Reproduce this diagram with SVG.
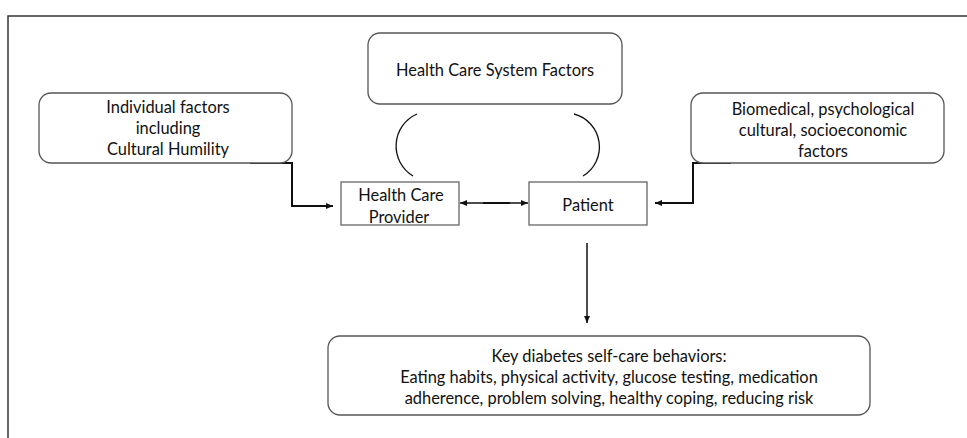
<svg xmlns="http://www.w3.org/2000/svg" width="967" height="438" viewBox="0 0 967 438">
<style>
.frame{fill:none;stroke:#333;stroke-width:1.5}
.rbox{fill:#fff;stroke:#555;stroke-width:1.3}
.sbox{fill:#fff;stroke:#666;stroke-width:1.3}
.t{font-family:Lato,"Liberation Sans",sans-serif;font-size:16.4px;fill:#111;text-anchor:middle;dominant-baseline:central}
.c{fill:none;stroke:#111;stroke-width:1.5}
.ct{fill:none;stroke:#111;stroke-width:2}
.arc{fill:none;stroke:#111;stroke-width:1.3}
</style>
<defs>
<marker id="ah" markerWidth="8" markerHeight="8" refX="7" refY="4" orient="auto" markerUnits="userSpaceOnUse">
<path d="M0,1 L7,4 L0,7 Z" fill="#111"/>
</marker>
<marker id="ahs" markerWidth="8" markerHeight="8" refX="1" refY="4" orient="auto" markerUnits="userSpaceOnUse">
<path d="M8,1 L1,4 L8,7 Z" fill="#111"/>
</marker>
</defs>
<rect width="967" height="438" fill="#fff"/>
<path class="frame" d="M8,438 L8,16 L967,16"/>
<g id="connectors">
<path class="ct" d="M250,163 L292,163 L292,206 L333,206" marker-end="url(#ah)"/>
<path class="ct" d="M731,163 L693,163 L693,203 L655,203" marker-end="url(#ah)"/>
<path class="c" d="M460,203 L528,203" marker-start="url(#ahs)" marker-end="url(#ah)"/>
<path class="ct" d="M483,203 L510,203"/>
<path class="c" d="M587,243 L587,323" marker-end="url(#ah)"/>
<path class="arc" d="M417,114 A35,35 0 0 0 413,176"/>
<path class="arc" d="M574,114 A34,34 0 0 1 583,176"/>
</g>
<g id="system">
<rect class="rbox" x="368" y="33" width="254" height="71" rx="12"/>
<text class="t" x="495" y="69">Health Care System Factors</text>
</g>
<g id="individual">
<rect class="rbox" x="39" y="93" width="253" height="70" rx="12"/>
<text class="t" x="168" y="106">Individual factors</text>
<text class="t" x="168" y="127">including</text>
<text class="t" x="168" y="148">Cultural Humility</text>
</g>
<g id="biomedical">
<rect class="rbox" x="691" y="93" width="253" height="70" rx="12"/>
<text class="t" x="823" y="108">Biomedical, psychological</text>
<text class="t" x="823" y="129">cultural, socioeconomic</text>
<text class="t" x="823" y="150">factors</text>
</g>
<g id="provider">
<rect class="sbox" x="341" y="182" width="118" height="43"/>
<text class="t" x="401" y="194">Health Care</text>
<text class="t" x="399" y="216">Provider</text>
</g>
<g id="patient">
<rect class="sbox" x="529" y="182" width="118" height="43"/>
<text class="t" x="588" y="204">Patient</text>
</g>
<g id="behaviors">
<rect class="rbox" x="328" y="336" width="542" height="79" rx="12"/>
<text class="t" x="609" y="355">Key diabetes self-care behaviors:</text>
<text class="t" x="609" y="376">Eating habits, physical activity, glucose testing, medication</text>
<text class="t" x="609" y="397">adherence, problem solving, healthy coping, reducing risk</text>
</g>
</svg>
